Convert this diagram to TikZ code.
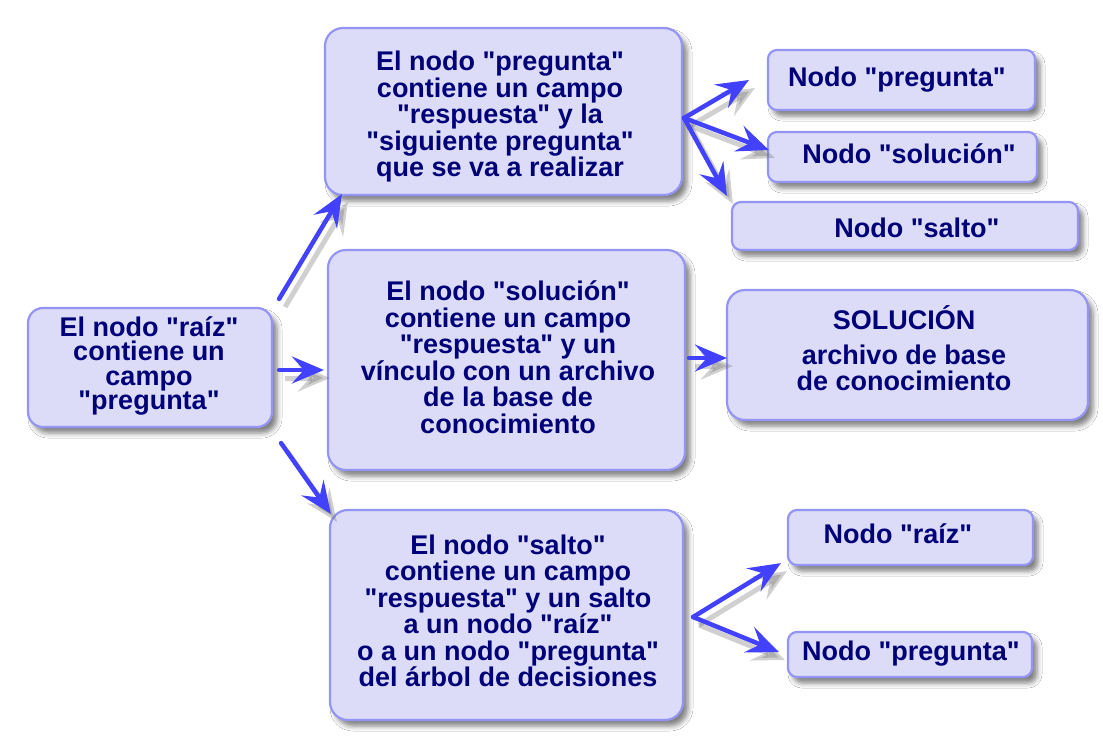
\documentclass[tikz,border=0pt]{standalone}
\usepackage{fontspec}
\setmainfont{Liberation Sans}[Ligatures=TeXOff]
\usetikzlibrary{arrows.meta,shadows.blur}
\definecolor{boxfill}{HTML}{DCDCF9}
\definecolor{boxline}{HTML}{9494F5}
\definecolor{txtcol}{HTML}{000078}
\definecolor{arrcol}{HTML}{4141FF}
\tikzset{
  card/.style={draw=boxline, fill=boxfill, line width=2.2pt, rounded corners=#1, inner sep=0pt,
    blur shadow={shadow xshift=5pt, shadow yshift=-6pt, shadow blur radius=5pt, shadow opacity=50}},
  card/.default=18pt,
  lbl/.style={text=txtcol, inner sep=0pt, align=center, font=\bfseries\fontsize{27}{#1}\selectfont},
  lbl/.default=26.5,
  arrowline/.style={draw=arrcol, line width=4.5pt, line cap=round,
    -{Stealth[length=32pt, width=27pt, inset=12pt]},
    preaction={draw=black!60, opacity=0.3, line width=5pt,
      -{Stealth[length=32pt, width=27pt, inset=12pt]},
      transform canvas={shift={(6pt,-8pt)}}}}
}
\begin{document}
\begin{tikzpicture}[x=1pt,y=-1pt]
\useasboundingbox[fill=white] (0,0) rectangle (1103,740);
% boxes
\node[card=15pt, minimum width=244pt, minimum height=119pt] (root) at (150,367.5) {};
\node[card, minimum width=357pt, minimum height=167pt] (preg) at (503.5,111.5) {};
\node[card, minimum width=357pt, minimum height=220pt] (sol) at (506.5,360) {};
\node[card, minimum width=353pt, minimum height=210pt] (salto) at (506.5,615) {};
\node[card=9pt, minimum width=267pt, minimum height=60pt] (np1) at (901.5,80) {};
\node[card=9pt, minimum width=269pt, minimum height=50pt] (ns1) at (902.5,157) {};
\node[card=9pt, minimum width=346pt, minimum height=48pt] (nsalto) at (905,226) {};
\node[card, minimum width=361pt, minimum height=130pt] (solbig) at (907.5,355) {};
\node[card=9pt, minimum width=245pt, minimum height=55pt] (nraiz) at (910.5,537.5) {};
\node[card=9pt, minimum width=244pt, minimum height=45pt] (np2) at (910,654.5) {};
% texts
\node[lbl=24.5] (roottxt) at (149,366) {El nodo "raíz"\\contiene un\\campo\\"pregunta"};
\node[lbl] (pregtxt) at (500,117) {El nodo "pregunta"\\contiene un campo\\"respuesta" y la\\"siguiente pregunta"\\que se va a realizar};
\node[lbl] (soltxt) at (508,357) {El nodo "solución"\\contiene un campo\\"respuesta" y un\\vínculo con un archivo\\de la base de\\conocimiento};
\node[lbl] (saltotxt) at (508,611) {El nodo "salto"\\contiene un campo\\"respuesta" y un salto\\a un nodo "raíz"\\o a un nodo "pregunta"\\del árbol de decisiones};
\node[lbl=26, anchor=center] (solbigtxt) at (904,348) {SOLUCIÓN\\[9pt]archivo de base\\de conocimiento};
\node[lbl, anchor=base] (np1txt) at (897,86.7) {Nodo "pregunta"};
\node[lbl, anchor=base] (ns1txt) at (909,163) {Nodo "solución"};
\node[lbl, anchor=base] (nsaltotxt) at (917,237) {Nodo "salto"};
\node[lbl, anchor=base] (nraiztxt) at (898,543) {Nodo "raíz"};
\node[lbl, anchor=base] (np2txt) at (911,660) {Nodo "pregunta"};
% fork points
\coordinate (f1) at ([shift={(1,6.5)}]preg.east);
\coordinate (f2) at ([shift={(9,2)}]salto.east);
% arrows
\draw[arrowline] ([shift={(6,-8)}]root.north east) -- ([shift={(18,-2)}]preg.south west);
\draw[arrowline] ([shift={(6,2.5)}]root.east) -- ([shift={(-3,10)}]sol.west);
\draw[arrowline] ([shift={(8,15)}]root.south east) -- ([shift={(2,5)}]salto.north west);
\draw[arrowline] (f1) -- ([shift={(-18,0)}]np1.west);
\draw[arrowline] (f1) -- ([shift={(2,-7)}]ns1.west);
\draw[arrowline] (f1) -- ([shift={(-4,-5)}]nsalto.north west);
\draw[arrowline] ([shift={(3,-2)}]sol.east) -- ([shift={(1,3)}]solbig.west);
\draw[arrowline] (f2) -- ([shift={(-6,-3)}]nraiz.south west);
\draw[arrowline] (f2) -- ([shift={(-8,-2.5)}]np2.west);
\end{tikzpicture}
\end{document}
